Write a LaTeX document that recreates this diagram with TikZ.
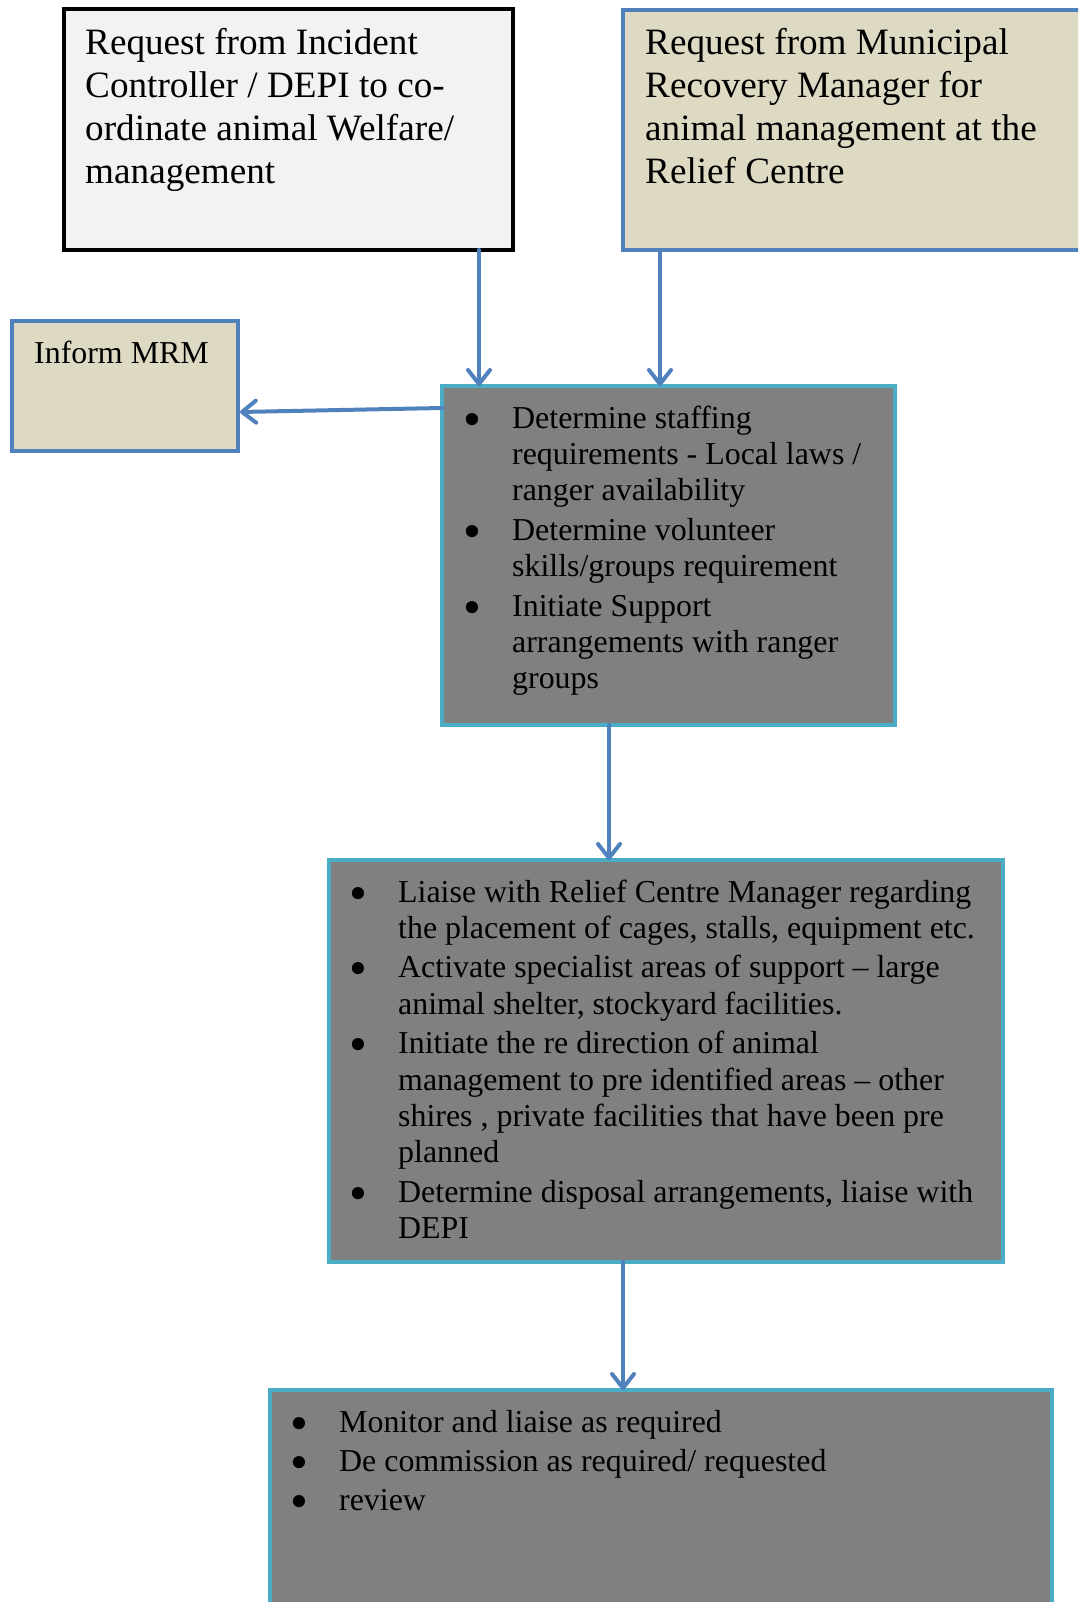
\documentclass[tikz,border=0pt]{standalone}
\usepackage{fontspec}
\usepackage{graphicx}
\setmainfont{Liberation Serif}
\usetikzlibrary{arrows.meta,calc}
\definecolor{arrowblue}{HTML}{4F81BD}
\definecolor{tealborder}{HTML}{4BACC6}
\definecolor{tanfill}{HTML}{DDD9C3}
\definecolor{lightfill}{HTML}{F2F2F2}
\definecolor{greyfill}{HTML}{808080}
\newcommand{\bul}{\makebox[47pt][l]{\hspace{-2pt}\smash{\raisebox{-8pt}{\scalebox{1.6}{\textbullet}}}}}
\tikzset{
  boxbase/.style={rectangle, inner sep=0pt, outer sep=0pt, line width=4pt, anchor=north west},
  blackbox/.style={boxbase, draw=black, fill=lightfill},
  tanbox/.style={boxbase, draw=arrowblue, fill=tanfill},
  greybox/.style={boxbase, draw=tealborder, fill=greyfill},
  bigtext/.style={inner sep=0pt, anchor=base west, font=\fontsize{37.2}{42.7}\selectfont},
  smalltext/.style={inner sep=0pt, anchor=base west, font=\fontsize{31.9}{36.4}\selectfont},
  conn/.style={draw=arrowblue, line width=4pt, line cap=round, -{Straight Barb[length=14pt,width=22pt,round]}}
}
\begin{document}
\begin{tikzpicture}[x=1pt,y=-1pt]
\useasboundingbox (0,0) rectangle (1078,1602);
\clip (0,0) rectangle (1078,1602);
% boxes
\node[blackbox, minimum width=449pt, minimum height=241pt] (b1) at (64,9) {};
\node[tanbox, minimum width=480pt, minimum height=240pt] (b2) at (623,10) {};
\node[tanbox, minimum width=226pt, minimum height=130pt] (mrm) at (12,321) {};
\node[greybox, minimum width=453pt, minimum height=339pt] (b3) at (442,386) {};
\node[greybox, minimum width=674pt, minimum height=402pt] (b4) at (329,860) {};
\node[greybox, minimum width=782pt, minimum height=260pt] (b5) at (270,1390) {};
% texts
\node[bigtext] (t1) at (85,55) {\begin{tabular}[t]{@{}l@{}}Request from Incident\\Controller / DEPI to co-\\ordinate animal Welfare/\\management\end{tabular}};
\node[bigtext] (t2) at (645,55) {\begin{tabular}[t]{@{}l@{}}Request from Municipal\\Recovery Manager for\\animal management at the\\Relief Centre\end{tabular}};
\node[smalltext] (tm) at (34,363) {Inform MRM};
\node[smalltext] (t3) at (465,428) {\begin{tabular}[t]{@{}l@{}l@{}}\bul&Determine staffing\\&requirements - Local laws /\\&ranger availability\\[3pt]\bul&Determine volunteer\\&skills/groups requirement\\[3pt]\bul&Initiate Support\\&arrangements with ranger\\&groups\end{tabular}};
\node[smalltext] (t4) at (351,902) {\begin{tabular}[t]{@{}l@{}l@{}}\bul&Liaise with Relief Centre Manager regarding\\&the placement of cages, stalls, equipment etc.\\[3pt]\bul&Activate specialist areas of support -- large\\&animal shelter, stockyard facilities.\\[3pt]\bul&Initiate the re direction of animal\\&management to pre identified areas -- other\\&shires , private facilities that have been pre\\&planned\\[3pt]\bul&Determine disposal arrangements, liaise with\\&DEPI\end{tabular}};
\node[smalltext] (t5) at (292,1432) {\begin{tabular}[t]{@{}l@{}l@{}}\bul&Monitor and liaise as required\\[3pt]\bul&De commission as required/ requested\\[3pt]\bul&review\end{tabular}};
% connectors
\draw[conn] ($(b1.south west)+(415,0)$) -- ($(b3.north west)+(37,0)$);
\draw[conn] ($(b2.south west)+(37,0)$) -- ($(b3.north west)+(218,0)$);
\draw[conn] ($(b3.north west)+(0,22)$) -- ($(mrm.north east)+(2,91)$);
\draw[conn] ($(b3.south west)+(167,0)$) -- ($(b4.north west)+(280,0)$);
\draw[conn] ($(b4.south west)+(294,0)$) -- ($(b5.north west)+(353,0)$);
\end{tikzpicture}
\end{document}
